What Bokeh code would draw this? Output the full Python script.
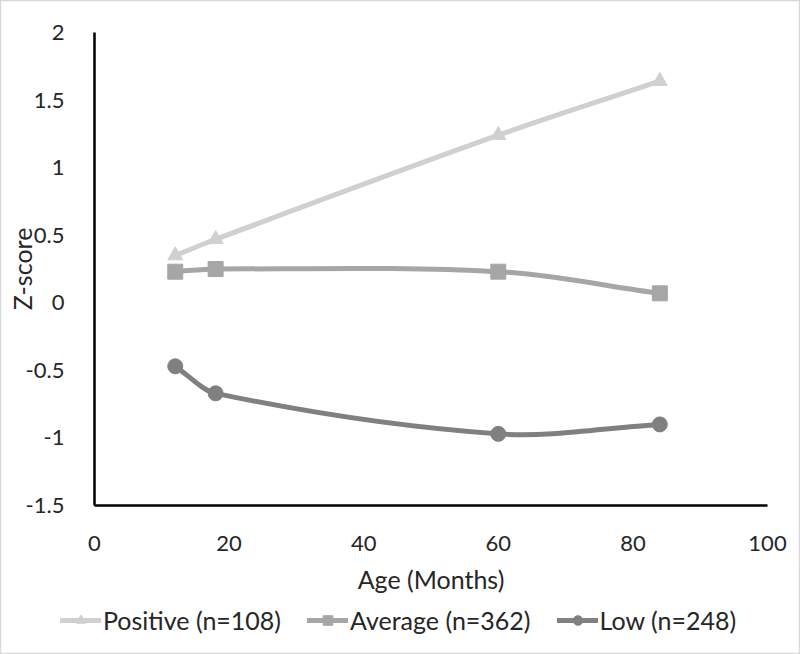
import numpy as np
from bokeh.plotting import figure
from bokeh.models import ColumnDataSource, Legend, LegendItem, Range1d, FixedTicker
from bokeh.embed import file_html
from bokeh.resources import INLINE

# ---- data ----
age = [12, 18, 60, 84]
positive = [0.35, 0.47, 1.24, 1.64]
average = [0.23, 0.25, 0.23, 0.07]
low = [-0.47, -0.67, -0.97, -0.90]
series_names = ["Positive (n=108)", "Average (n=362)", "Low (n=248)"]
x_ticks = [0, 20, 40, 60, 80, 100]
y_ticks = [-1.5, -1, -0.5, 0, 0.5, 1, 1.5, 2]
x_bounds = (0, 100)
y_bounds = (-1.5, 2)
x_title = "Age (Months)"
y_title = "Z-score"

colors = ["#d0d0d0", "#a6a6a6", "#808080"]
markers = ["triangle", "square", "circle"]
FONT = "Lato"
TXT = "#262626"

# layout geometry (pixels) of the plotting area inside the 800x654 chart
W, H = 800, 654
L, R, T, B = 94, 767, 32, 505
sx = (x_bounds[1] - x_bounds[0]) / (R - L)
sy = (y_bounds[1] - y_bounds[0]) / (B - T)
xr = Range1d(x_bounds[0] - L * sx, x_bounds[1] + (W - R) * sx)
yr = Range1d(y_bounds[0] - (H - B) * sy, y_bounds[1] + T * sy)

p = figure(width=W, height=H, output_backend="svg", toolbar_location=None,
           x_range=xr, y_range=yr,
           min_border_left=0, min_border_right=0, min_border_top=0, min_border_bottom=0)
p.outline_line_color = "#d9d9d9"
p.outline_line_width = 1.5
p.xgrid.grid_line_color = None
p.ygrid.grid_line_color = None
p.background_fill_color = "white"
p.border_fill_color = "white"

xa, ya = p.xaxis[0], p.yaxis[0]
xa.fixed_location = y_bounds[0]
ya.fixed_location = x_bounds[0]
xa.bounds = x_bounds
ya.bounds = y_bounds
for ax in (xa, ya):
    ax.axis_line_color = "black"
    ax.axis_line_width = 2.5
    ax.major_tick_line_color = None
    ax.minor_tick_line_color = None
    ax.major_label_text_font = FONT
    ax.major_label_text_font_size = "22px"
    ax.major_label_text_color = TXT
    ax.axis_label_text_font = FONT
    ax.axis_label_text_font_size = "25px"
    ax.axis_label_text_font_style = "normal"
    ax.axis_label_text_color = TXT

xa.ticker = FixedTicker(ticks=x_ticks)
ya.ticker = FixedTicker(ticks=y_ticks)
xa.major_label_overrides = {t: str(t) for t in x_ticks}
ya.major_label_overrides = {t: ("%g" % t) for t in y_ticks}
xa.major_label_standoff = 24
ya.major_label_standoff = 24
xa.axis_label = x_title
ya.axis_label = y_title
xa.axis_label_standoff = 10
ya.axis_label_standoff = -14


def smooth_segments(xs, ys):
    """Bezier control points for a smooth (Hermite-style) curve through the data points."""
    xs = np.asarray(xs, float)
    ys = np.asarray(ys, float)
    n = len(xs)
    m = np.zeros(n)
    for i in range(n):
        if i == 0:
            m[i] = (ys[1] - ys[0]) / (xs[1] - xs[0])
        elif i == n - 1:
            m[i] = (ys[-1] - ys[-2]) / (xs[-1] - xs[-2])
        else:
            m[i] = (ys[i + 1] - ys[i - 1]) / (xs[i + 1] - xs[i - 1])
    d = dict(x0=[], y0=[], x1=[], y1=[], cx0=[], cy0=[], cx1=[], cy1=[])
    for i in range(n - 1):
        h = xs[i + 1] - xs[i]
        d["x0"].append(xs[i]); d["y0"].append(ys[i])
        d["x1"].append(xs[i + 1]); d["y1"].append(ys[i + 1])
        d["cx0"].append(xs[i] + h / 3); d["cy0"].append(ys[i] + m[i] * h / 3)
        d["cx1"].append(xs[i + 1] - h / 3); d["cy1"].append(ys[i + 1] - m[i + 1] * h / 3)
    return ColumnDataSource(d)


items = []
for vals, name, col, mk in zip([positive, average, low], series_names, colors, markers):
    src = smooth_segments(age, vals)
    r1 = p.bezier(x0="x0", y0="y0", x1="x1", y1="y1", cx0="cx0", cy0="cy0", cx1="cx1", cy1="cy1",
                  source=src, line_color=col, line_width=5, line_cap="round")
    r2 = p.scatter(age, vals, marker=mk, size=15, fill_color=col, line_color=col)
    items.append(LegendItem(label=name, renderers=[r1, r2], index=0))

legend = Legend(items=items, orientation="horizontal", location=(60, 19),
                label_text_font=FONT, label_text_font_size="25px", label_text_color=TXT,
                glyph_width=41, glyph_height=24, spacing=26, label_standoff=2,
                border_line_color=None, background_fill_alpha=0, margin=0, padding=2)
p.add_layout(legend, "center")

open("out.html", "w").write(file_html(p, INLINE))
